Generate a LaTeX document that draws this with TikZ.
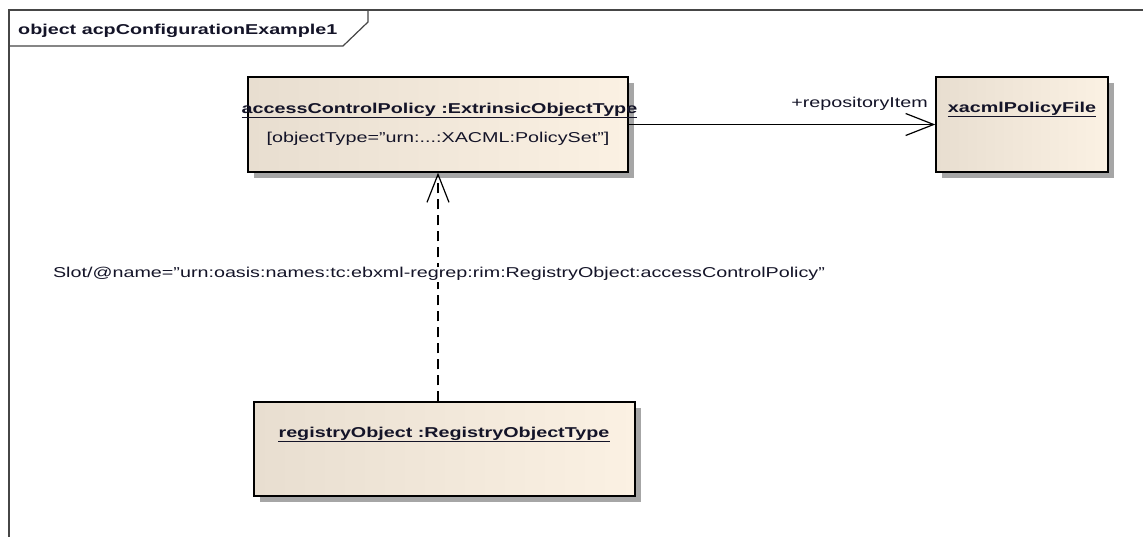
\documentclass[tikz,border=0pt]{standalone}
\usepackage{fontspec}
\setmainfont[FakeStretch=1.38]{Liberation Sans}
\usetikzlibrary{arrows.meta,shadows}
\definecolor{boxL}{RGB}{232,222,208}
\definecolor{boxR}{RGB}{251,241,227}
\definecolor{frameC}{RGB}{70,70,70}
\definecolor{txt}{RGB}{20,20,40}
\tikzset{
  objbox/.style={draw=black, line width=1.4pt, left color=boxL, right color=boxR,
    general shadow={fill=black!35, draw=none, shadow xshift=6pt, shadow yshift=-6pt},
    inner sep=0pt},
  nametxt/.style={font=\fontsize{14.3}{16}\selectfont\bfseries, text=txt, inner sep=0pt, anchor=base},
  plaintxt/.style={font=\fontsize{14.3}{16}\selectfont, text=txt, inner sep=0pt},
  uline/.style={line width=1pt, txt},
  conn/.style={line width=1.2pt, black},
  openhead/.style={-{Straight Barb[length=28pt, width=22pt, line width=1.2pt]}}
}
\begin{document}
\begin{tikzpicture}[x=1pt, y=-1pt]
\useasboundingbox[fill=white] (0,0) rectangle (1143,537);
% frame
\draw[frameC, line width=1.4pt] (9,537) -- (9,10) -- (1143,10);
\draw[frameC, line width=1.2pt] (368,10) -- (368,22) -- (343,46) -- (9,46);
\node[nametxt, anchor=base west] (title) at (18,35) {object acpConfigurationExample1};
% boxes
\node[objbox, minimum width=380pt, minimum height=95pt] (acp) at (438,124.5) {};
\node[objbox, minimum width=172pt, minimum height=95pt] (xacml) at (1022,124.5) {};
\node[objbox, minimum width=381pt, minimum height=94pt] (reg) at (444.5,449) {};
% box texts
\node[nametxt] (acpname) at (439.5,114) {accessControlPolicy :ExtrinsicObjectType};
\draw[uline] ([yshift=-4pt]acpname.base west) -- ([yshift=-4pt]acpname.base east);
\node[plaintxt, anchor=base] (acpattr) at (438,143) {[objectType="urn:...:XACML:PolicySet"]};
\node[nametxt] (xname) at (1022,113) {xacmlPolicyFile};
\draw[uline] ([yshift=-4pt]xname.base west) -- ([yshift=-4pt]xname.base east);
\node[nametxt] (rname) at (444,437) {registryObject :RegistryObjectType};
\draw[uline] ([yshift=-4pt]rname.base west) -- ([yshift=-4pt]rname.base east);
% connectors
\draw[conn, openhead] (acp.east) -- (xacml.west);
\node[plaintxt, anchor=base east] (repo) at (928,108) {+repositoryItem};
\draw[conn, openhead, dash pattern=on 10pt off 6pt] (acp.south |- reg.north) -- (acp.south);
\node[plaintxt, anchor=base, fill=white, inner sep=1pt] (slot) at (439,278) {Slot/@name="urn:oasis:names:tc:ebxml-regrep:rim:RegistryObject:accessControlPolicy"};
\end{tikzpicture}
\end{document}
